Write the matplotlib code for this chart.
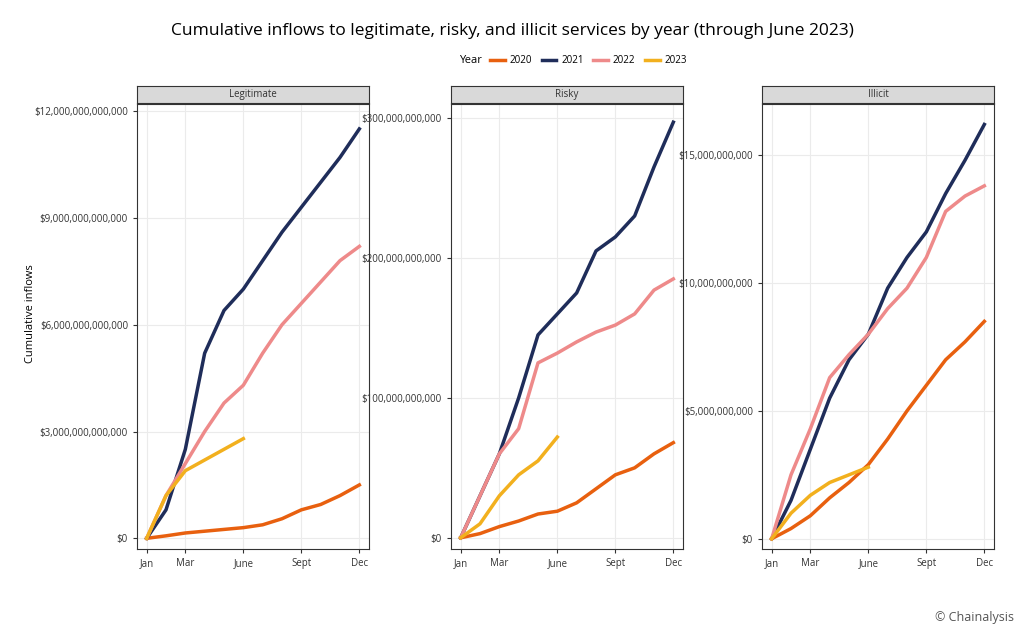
import numpy as np
import matplotlib.pyplot as plt
from matplotlib.ticker import FuncFormatter

months = np.arange(1, 13)
month_ticks = [1, 3, 6, 9, 12]
month_labels = ["Jan", "Mar", "June", "Sept", "Dec"]
years = ["2020", "2021", "2022", "2023"]
colors = {"2020": "#e8600f", "2021": "#1f2d5a", "2022": "#ee8a8a", "2023": "#f2b01e"}

# trillions USD
legit = {
    "2020": [0, 0.07, 0.15, 0.2, 0.25, 0.3, 0.38, 0.55, 0.8, 0.95, 1.2, 1.5],
    "2021": [0, 0.8, 2.5, 5.2, 6.4, 7.0, 7.8, 8.6, 9.3, 10.0, 10.7, 11.5],
    "2022": [0, 1.2, 2.1, 3.0, 3.8, 4.3, 5.2, 6.0, 6.6, 7.2, 7.8, 8.2],
    "2023": [0, 1.2, 1.9, 2.2, 2.5, 2.8],
}
# billions USD
risky = {
    "2020": [0, 3, 8, 12, 17, 19, 25, 35, 45, 50, 60, 68],
    "2021": [0, 30, 60, 100, 145, 160, 175, 205, 215, 230, 265, 297],
    "2022": [0, 30, 60, 78, 125, 132, 140, 147, 152, 160, 177, 185],
    "2023": [0, 10, 30, 45, 55, 72],
}
illicit = {
    "2020": [0, 0.4, 0.9, 1.6, 2.2, 2.9, 3.9, 5.0, 6.0, 7.0, 7.7, 8.5],
    "2021": [0, 1.5, 3.5, 5.5, 7.0, 8.0, 9.8, 11.0, 12.0, 13.5, 14.8, 16.2],
    "2022": [0, 2.5, 4.3, 6.3, 7.2, 8.0, 9.0, 9.8, 11.0, 12.8, 13.4, 13.8],
    "2023": [0, 1.0, 1.7, 2.2, 2.5, 2.8],
}
panels = [
    ("Legitimate", legit, 1e12, [0, 3e12, 6e12, 9e12, 12e12], (-0.3e12, 12.2e12)),
    ("Risky", risky, 1e9, [0, 100e9, 200e9, 300e9], (-8e9, 310e9)),
    ("Illicit", illicit, 1e9, [0, 5e9, 10e9, 15e9], (-0.4e9, 17e9)),
]

plt.rcParams["font.family"] = "Open Sans"
fig = plt.figure(figsize=(10.24, 6.4), dpi=100)
lefts = [137, 451, 762]
fmt = FuncFormatter(lambda v, p: "$0" if v == 0 else f"${v:,.0f}")
for (name, data, scale, ticks, ylim), lx in zip(panels, lefts):
    ax = fig.add_axes([lx / 1024, 1 - 549 / 640, 232 / 1024, 445 / 640])
    for y in years:
        vals = np.array(data[y]) * scale
        ax.plot(months[:len(vals)], vals, color=colors[y], lw=2.5, label=y)
    ax.set_xlim(0.5, 12.5)
    ax.set_ylim(*ylim)
    ax.set_xticks(month_ticks, month_labels)
    ax.set_yticks(ticks)
    ax.yaxis.set_major_formatter(fmt)
    ax.tick_params(labelsize=7, colors="#333333", length=3)
    ax.grid(True, color="#ebebeb", lw=0.8)
    ax.set_axisbelow(True)
    for s in ax.spines.values():
        s.set_color("#333333")
        s.set_linewidth(0.8)
    strip = fig.add_axes([lx / 1024, 1 - 103 / 640, 232 / 1024, 17 / 640])
    strip.set_facecolor("#d9d9d9")
    strip.set_xticks([])
    strip.set_yticks([])
    for s in strip.spines.values():
        s.set_color("#333333")
        s.set_linewidth(0.8)
    strip.text(0.5, 0.5, name, ha="center", va="center", fontsize=7, color="#333333")
    if name == "Legitimate":
        handles, labels = ax.get_legend_handles_labels()

fig.text(0.5, 0.945, "Cumulative inflows to legitimate, risky, and illicit services by year (through June 2023)",
         ha="center", fontsize=12.5)
fig.text(0.448, 0.905, "Year", ha="left", va="center", fontsize=8)
fig.legend(handles, labels, loc="center left", bbox_to_anchor=(0.47, 0.905), ncol=4, frameon=False,
           fontsize=7, handlelength=1.5, columnspacing=1.0, handletextpad=0.5)
fig.text(0.03, 0.51, "Cumulative inflows", rotation=90, ha="center", va="center", fontsize=8)
fig.text(0.99, 0.03, "© Chainalysis", ha="right", fontsize=9, color="#555555")
fig.savefig("out.png")
